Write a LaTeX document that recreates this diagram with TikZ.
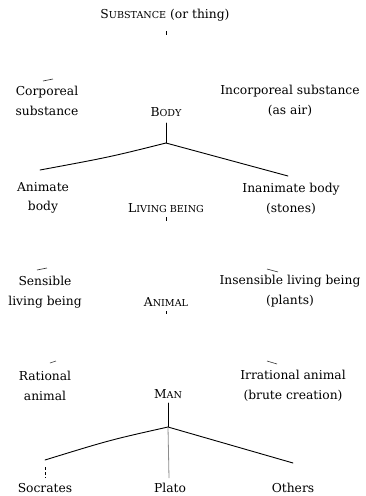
\documentclass[tikz,border=0pt]{standalone}
\usepackage{fontspec}
\setmainfont{DejaVu Serif}
\newcommand\fsc[2]{#1{\fontsize{9.6}{19}\selectfont #2}}
\begin{document}
\begin{tikzpicture}[x=1pt,y=-1pt,
  lbl/.style={inner sep=0pt,align=center,font=\fontsize{12.3}{19.5}\selectfont},
  tree/.style={line width=0.9pt,line cap=round},
  tick/.style={line width=0.7pt},
  faint/.style={line width=0.6pt,black!80}]
\useasboundingbox (0,0) rectangle (366,496);
% nodes
\node[lbl] (sub) at (165,15) {\fsc{S}{UBSTANCE} (or thing)};
\node[lbl] (corp) at (47,101) {Corporeal\\substance};
\node[lbl] (incorp) at (290,101) {Incorporeal substance\\(as air)};
\node[lbl] (body) at (166,112) {\fsc{B}{ODY}};
\node[lbl] (anim) at (43,198) {Animate\\body};
\node[lbl] (inan) at (291,199) {Inanimate body\\(stones)};
\node[lbl] (living) at (166,208) {\fsc{L}{IVING BEING}};
\node[lbl] (sens) at (45,292) {Sensible\\living being};
\node[lbl] (insens) at (290,291) {Insensible living being\\(plants)};
\node[lbl] (animal) at (166,302) {\fsc{A}{NIMAL}};
\node[lbl] (rat) at (45,386) {Rational\\animal};
\node[lbl] (irrat) at (293,386) {Irrational animal\\(brute creation)};
\node[lbl] (man) at (168,394) {\fsc{M}{AN}};
\node[lbl] (soc) at (45,488) {Socrates};
\node[lbl] (plato) at (170,488) {Plato};
\node[lbl] (others) at (293,488) {Others};
% coordinates
\coordinate (bj) at (166,143);
\coordinate (bl) at (40,170);
\coordinate (br) at (288,176);
\coordinate (mj) at (168,427);
\coordinate (ml) at (45,460);
\coordinate (mr) at (293,463);
% ticks under central terms
\draw[tick] (166,31) -- (166,35);
\draw[tick] (166,217) -- (166,221);
\draw[tick] (166,311) -- (166,314);
% body branching
\draw[tree] (166,123) -- (bj);
\draw[tree] (bj) .. controls (110,157) .. (bl);
\draw[tree] (bj) -- (br);
% man branching
\draw[tree] (168,403) -- (mj);
\draw[tree] (mj) .. controls (110,440) .. (ml);
\draw[tree] (mj) -- (mr);
\draw[line width=0.8pt,black!45] (mj) -- (169,478);
\draw[tick,dash pattern=on 3pt off 2pt] (45,467) -- (45,478);
% faint fragments
\draw[faint] (43,81) -- (53,79);
\draw[faint] (37,270) -- (47,268);
\draw[faint] (267,269) -- (278,272);
\draw[faint] (50,363) -- (56,361);
\draw[faint] (267,361) -- (277,364);
\end{tikzpicture}
\end{document}
